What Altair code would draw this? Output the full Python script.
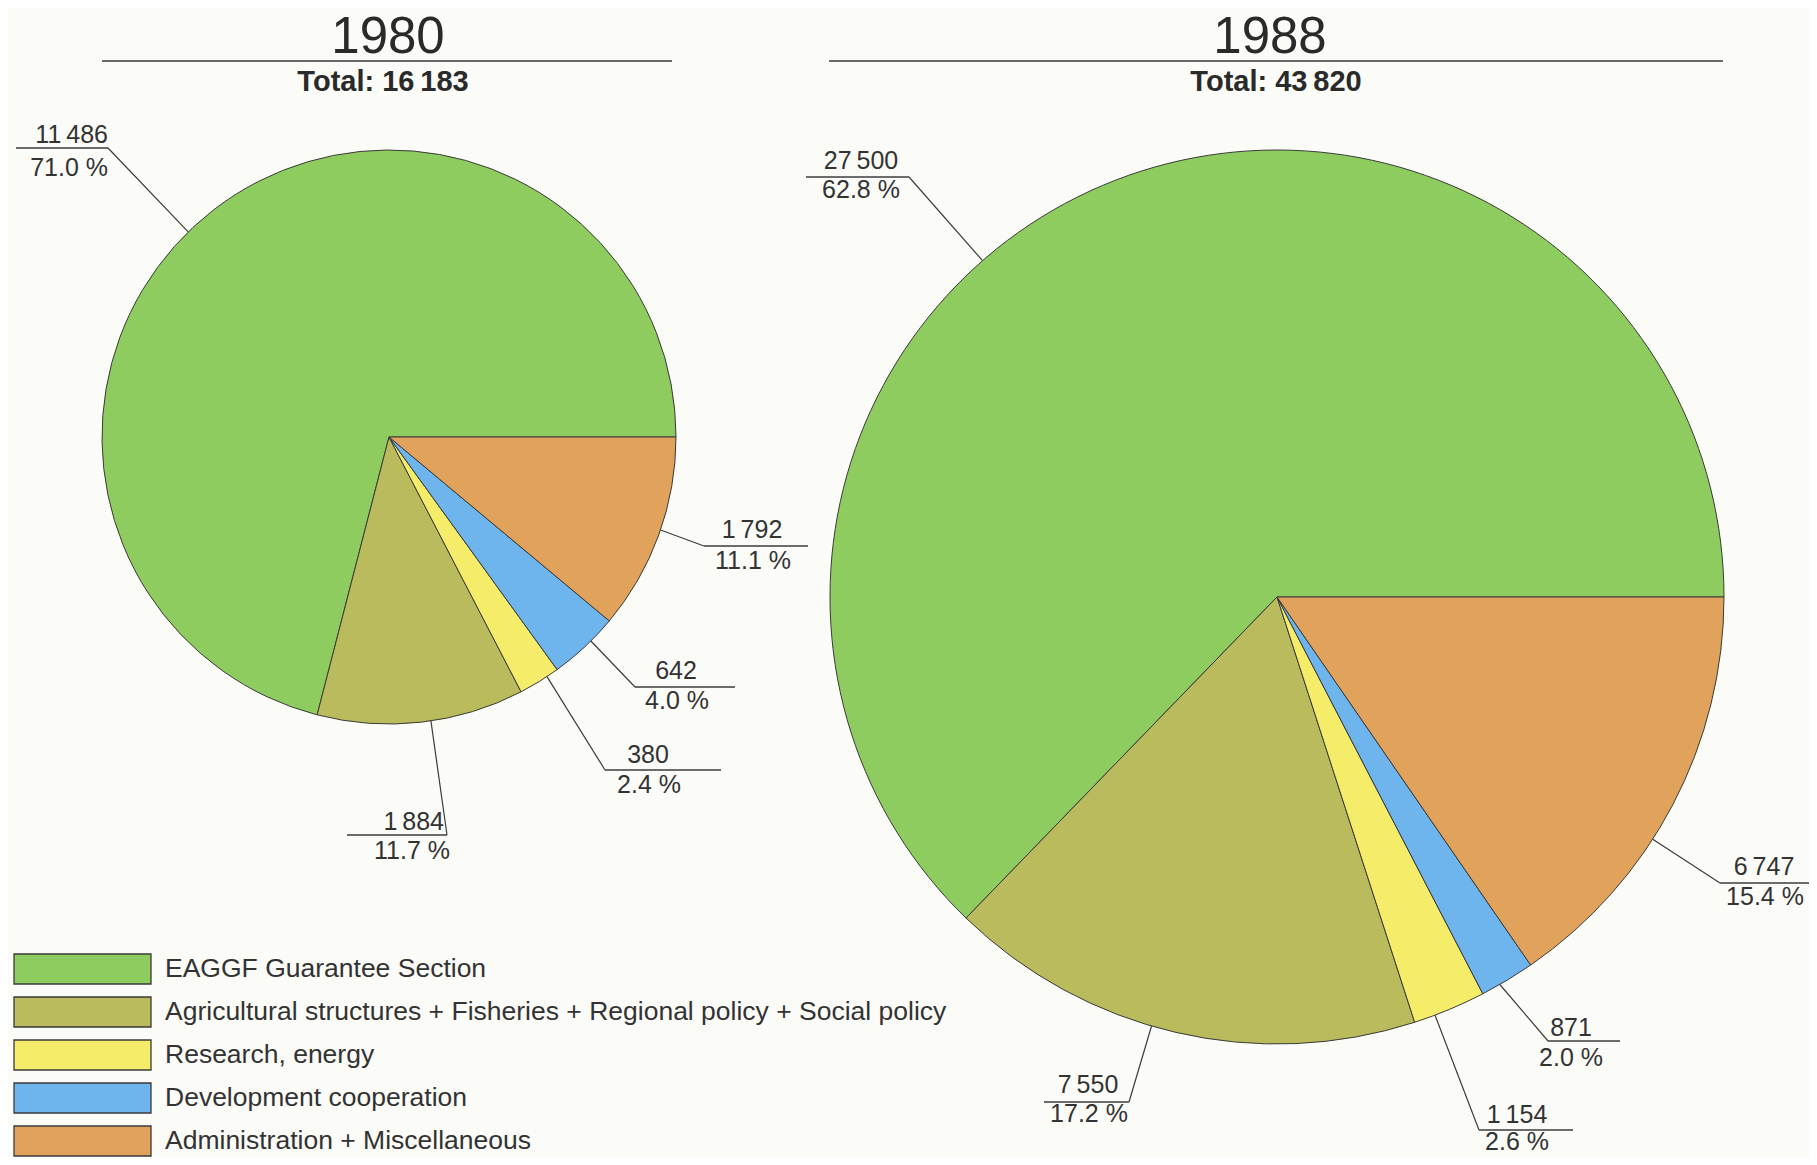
import math
import altair as alt
import pandas as pd

# ---------------- data ----------------
categories = [
    "EAGGF Guarantee Section",
    "Agricultural structures + Fisheries + Regional policy + Social policy",
    "Research, energy",
    "Development cooperation",
    "Administration + Miscellaneous",
]
values_1980 = [11486, 1884, 380, 642, 1792]
pct_1980 = [71.0, 11.7, 2.4, 4.0, 11.1]
values_1988 = [27500, 7550, 1154, 871, 6747]
pct_1988 = [62.8, 17.2, 2.6, 2.0, 15.4]
years = ["1980", "1988"]
totals = [16183, 43820]

# ---------------- styles / layout (screen pixels) ----------------
colors = ["#8ecc60", "#b9bb5c", "#f5ec6a", "#6eb5ee", "#e1a35c"]
clockwise_from_east = [4, 3, 2, 1, 0]  # draw order index per category
INK = "#333333"
FONT = "Liberation Sans"
BG = "#fbfbf8"
W, H = 1801, 1149  # view covers screen x 8..1809, y 8..1157

pies = {
    "1980": dict(cx=389, cy=437, r=287, rule=(102, 672), title_x=388, total_x=383),
    "1988": dict(cx=1277, cy=597, r=447, rule=(829, 1723), title_x=1270, total_x=1276),
}
# per category: leader angle (deg, clockwise from east), elbow, far end of rule,
# value text x/baseline, pct text x/baseline, alignment
label_layout = {
    "1980": [
        dict(a=225.6, ex=108, ey=148, rx=16, vx=108, vy=143, px=108, py=176, align="right"),
        dict(a=81.6, ex=447, ey=835, rx=347, vx=444, vy=830, px=450, py=859, align="right"),
        dict(a=56.6, ex=605, ey=770, rx=721, vx=648, vy=763, px=649, py=793, align="center"),
        dict(a=45.3, ex=635, ey=687, rx=735, vx=676, vy=679, px=677, py=709, align="center"),
        dict(a=18.9, ex=704, ey=546, rx=808, vx=752, vy=538, px=753, py=569, align="center"),
    ],
    "1988": [
        dict(a=228.8, ex=909, ey=177, rx=806, vx=861, vy=169, px=861, py=198, align="center"),
        dict(a=106.3, ex=1129, ey=1102, rx=1044, vx=1088, vy=1093, px=1089, py=1122, align="center"),
        dict(a=69.3, ex=1479, ey=1130, rx=1573, vx=1517, vy=1123, px=1517, py=1150, align="center"),
        dict(a=60.1, ex=1548, ey=1041, rx=1620, vx=1571, vy=1036, px=1571, py=1066, align="center"),
        dict(a=32.8, ex=1720, ey=883, rx=1817, vx=1764, vy=875, px=1765, py=905, align="center"),
    ],
}
legend_layout = dict(x0=14, x1=151, tx=165, rows=[969, 1012, 1055, 1098, 1141], h=30)

# ---------------- helpers ----------------
def fmt_num(v):
    return f"{v:,}".replace(",", "\u2009")

def fmt_pct(p):
    return f"{p:.1f} %"

XS = alt.Scale(domain=[8, 8 + W], zero=False, nice=False)
YS = alt.Scale(domain=[8, 8 + H], zero=False, nice=False, reverse=True)
color_scale = alt.Scale(domain=categories, range=colors)

def X(f):
    return alt.X(f, type="quantitative", scale=XS, axis=None)

def Y(f):
    return alt.Y(f, type="quantitative", scale=YS, axis=None)

layers = []
year_vals = {"1980": (values_1980, pct_1980), "1988": (values_1988, pct_1988)}

for yi, year in enumerate(years):
    p = pies[year]
    vals, pcts = year_vals[year]
    df = pd.DataFrame({
        "category": categories,
        "value": vals,
        "order": clockwise_from_east,
    })
    layers.append(
        alt.Chart(df).mark_arc(radius=p["r"], stroke="#3a3a3a", strokeWidth=1).encode(
            theta=alt.Theta("value:Q", stack="normalize",
                            scale=alt.Scale(domain=[0, 1], range=[math.pi / 2, math.pi / 2 + 2 * math.pi])),
            color=alt.Color("category:N", scale=color_scale, legend=None),
            order=alt.Order("order:Q"),
            x=alt.value(p["cx"] - 8),
            y=alt.value(p["cy"] - 8),
        )
    )

    # labels
    rows = []
    for ci, cat in enumerate(categories):
        L = label_layout[year][ci]
        ang = math.radians(L["a"])
        sx = p["cx"] + p["r"] * math.cos(ang)
        sy = p["cy"] + p["r"] * math.sin(ang)
        rows.append(dict(sx=sx, sy=sy, ex=L["ex"], ey=L["ey"], rx=L["rx"],
                         vx=L["vx"], vy=L["vy"], px=L["px"], py=L["py"],
                         vt=fmt_num(vals[ci]), pt=fmt_pct(pcts[ci]), align=L["align"]))
    ldf = pd.DataFrame(rows)
    layers.append(alt.Chart(ldf).mark_rule(color="#3c3c3c", strokeWidth=1.2).encode(
        x=X("sx"), y=Y("sy"), x2="ex", y2="ey"))
    layers.append(alt.Chart(ldf).mark_rule(color="#3c3c3c", strokeWidth=1.3).encode(
        x=X("ex"), y=Y("ey"), x2="rx", y2="ey"))
    for al in ["right", "center"]:
        sub = ldf[ldf["align"] == al]
        if len(sub) == 0:
            continue
        layers.append(alt.Chart(sub).mark_text(align=al, baseline="alphabetic", font=FONT,
                                                fontSize=25, color=INK).encode(
            x=X("vx"), y=Y("vy"), text="vt:N"))
        layers.append(alt.Chart(sub).mark_text(align=al, baseline="alphabetic", font=FONT,
                                                fontSize=25, color=INK).encode(
            x=X("px"), y=Y("py"), text="pt:N"))

    # titles
    tdf = pd.DataFrame([dict(tx=p["title_x"], ty=53, t=year,
                             ux=p["total_x"], uy=91, tt=f"Total: {fmt_num(totals[yi])}",
                             r1=p["rule"][0], r2=p["rule"][1], ry=61)])
    layers.append(alt.Chart(tdf).mark_text(align="center", baseline="alphabetic", font=FONT,
                                           fontSize=51, color="#2a2a2a").encode(
        x=X("tx"), y=Y("ty"), text="t:N"))
    layers.append(alt.Chart(tdf).mark_text(align="center", baseline="alphabetic", font=FONT,
                                           fontSize=29, fontWeight="bold", color="#2a2a2a").encode(
        x=X("ux"), y=Y("uy"), text="tt:N"))
    layers.append(alt.Chart(tdf).mark_rule(color="#3a3a3a", strokeWidth=1.6).encode(
        x=X("r1"), x2="r2", y=Y("ry")))

# legend
lg = pd.DataFrame({
    "category": categories,
    "yc": legend_layout["rows"],
})
lg["x0"] = legend_layout["x0"]
lg["x1"] = legend_layout["x1"]
lg["tx"] = legend_layout["tx"]
lg["y0"] = lg["yc"] - legend_layout["h"] / 2
lg["y1"] = lg["yc"] + legend_layout["h"] / 2
layers.append(alt.Chart(lg).mark_rect(stroke="#3a3a3a", strokeWidth=1.3).encode(
    x=X("x0"), x2="x1", y=Y("y0"), y2="y1",
    color=alt.Color("category:N", scale=color_scale, legend=None)))
layers.append(alt.Chart(lg).mark_text(align="left", baseline="middle", font=FONT,
                                      fontSize=26.5, color=INK).encode(
    x=X("tx"), y=Y("yc"), text="category:N"))

chart = alt.layer(*layers).properties(
    width=W, height=H, padding=0, background=BG,
    autosize=alt.AutoSizeParams(type="none"),
).configure_view(stroke=None)

chart.save("out.html", embed_options={"renderer": "svg", "actions": False})
